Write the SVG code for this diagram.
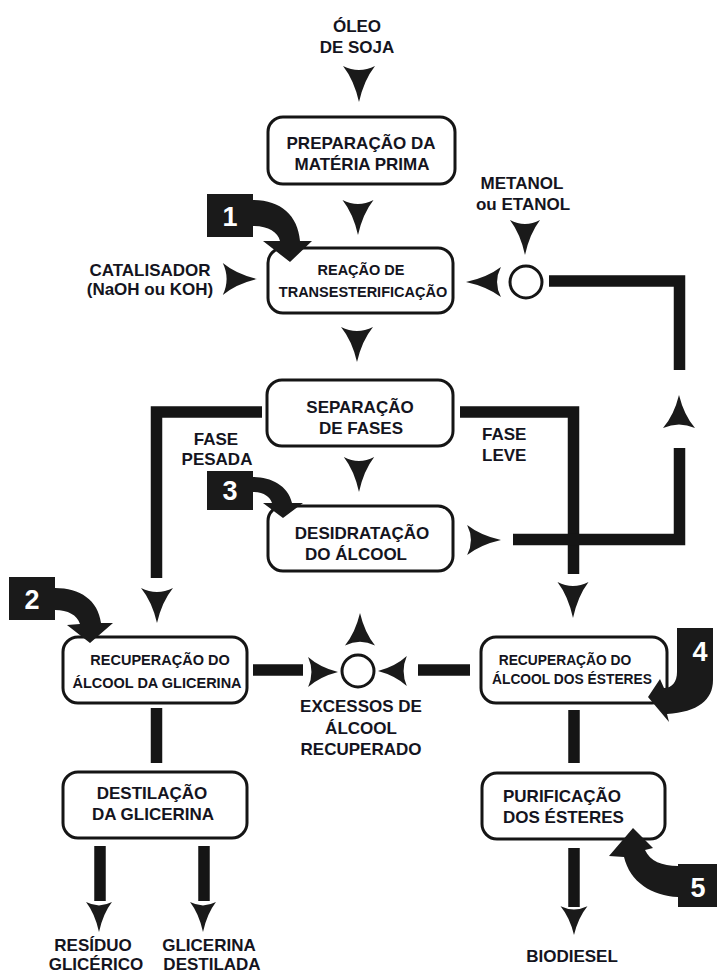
<svg xmlns="http://www.w3.org/2000/svg" xmlns:xlink="http://www.w3.org/1999/xlink" width="717" height="975" viewBox="0 0 717 975">
<style>
.box{fill:#fff;stroke:#151515;stroke-width:3}
.ln{fill:none;stroke:#151515;stroke-width:11.5;stroke-linejoin:miter;stroke-linecap:butt}
.cir{fill:#fff;stroke:#151515;stroke-width:3}
.ar{fill:#1a1a1a}
.mk{fill:#1a1a1a}
text{font-family:"Liberation Sans",Arial,Helvetica,sans-serif;font-weight:bold;fill:#141420;text-anchor:middle}
.t{font-size:17px}
.s{font-size:14.5px}
.xs{font-size:13.8px}
.num{font-size:27px;fill:#fff}
</style>
<defs>
<path id="dart" d="M0,0 Q-5,-22 -16,-36 Q0,-28 16,-36 Q5,-22 0,0 Z"/>
</defs>

<g id="connectors">
<path class="ln" d="M262,412 H156.5 V578"/>
<path class="ln" d="M460,412 H573.5 V574"/>
<path class="ln" d="M513,539.5 H679.5 V448"/>
<path class="ln" d="M549,281 H679.5 V370"/>
<path class="ln" d="M253,670 H303"/>
<path class="ln" d="M418,670 H470"/>
<path class="ln" d="M156.5,708 V763"/>
<path class="ln" d="M574,710 V763"/>
<path class="ln" d="M100,846 V901"/>
<path class="ln" d="M204,846 V901"/>
<path class="ln" d="M574,848 V907"/>
<g class="ar">
<use xlink:href="#dart" transform="translate(359,102)"/>
<use xlink:href="#dart" transform="translate(358,235) scale(0.97,0.97)"/>
<use xlink:href="#dart" transform="translate(357,362) scale(1,0.97)"/>
<use xlink:href="#dart" transform="translate(359,492) scale(0.95,0.97)"/>
<use xlink:href="#dart" transform="translate(257,279) rotate(-90) scale(1,0.95)"/>
<use xlink:href="#dart" transform="translate(525,255) scale(0.94,0.97)"/>
<use xlink:href="#dart" transform="translate(466,282) rotate(90) scale(0.94,0.97)"/>
<use xlink:href="#dart" transform="translate(679,395) rotate(180) scale(1,0.92)"/>
<use xlink:href="#dart" transform="translate(501,540) rotate(-90) scale(0.94,0.94)"/>
<use xlink:href="#dart" transform="translate(157,623) scale(1,0.97)"/>
<use xlink:href="#dart" transform="translate(573,618) scale(0.97,1)"/>
<use xlink:href="#dart" transform="translate(338,672) rotate(-90) scale(0.94,0.83)"/>
<use xlink:href="#dart" transform="translate(378,671) rotate(90) scale(0.94,0.8)"/>
<use xlink:href="#dart" transform="translate(360,613) rotate(180) scale(0.94,0.9)"/>
<use xlink:href="#dart" transform="translate(99,932) scale(0.81,0.83)"/>
<use xlink:href="#dart" transform="translate(203,932) scale(0.81,0.83)"/>
<use xlink:href="#dart" transform="translate(574,935) scale(0.84,0.8)"/>
</g>
</g>

<g id="oleo">
<text class="t" x="357" y="32">ÓLEO</text>
<text class="t" x="357" y="53">DE SOJA</text>
</g>

<g id="preparacao">
<rect class="box" x="268" y="117" width="187" height="67" rx="15"/>
<text class="t" x="361" y="149">PREPARAÇÃO DA</text>
<text class="t" x="362" y="170">MATÉRIA PRIMA</text>
</g>

<g id="catalisador">
<text class="t" x="150" y="276">CATALISADOR</text>
<text class="t" x="150" y="295">(NaOH ou KOH)</text>
</g>

<g id="metanol">
<text class="t" x="522" y="189">METANOL</text>
<text class="t" x="523" y="210">ou ETANOL</text>
</g>

<g id="mistura-alcool">
<circle class="cir" cx="526" cy="282" r="16"/>
</g>

<g id="reacao">
<rect class="box" x="268" y="248" width="185" height="65" rx="15"/>
<text class="s" x="361" y="275">REAÇÃO DE</text>
<text class="s" x="363" y="297">TRANSESTERIFICAÇÃO</text>
</g>

<g id="separacao">
<rect class="box" x="267" y="380" width="186" height="66" rx="15"/>
<text class="t" x="360" y="413">SEPARAÇÃO</text>
<text class="t" x="361" y="434">DE FASES</text>
</g>

<g id="fase-pesada">
<text class="t" x="216" y="445">FASE</text>
<text class="t" x="217" y="465">PESADA</text>
</g>

<g id="fase-leve">
<text class="t" x="482" y="440" style="text-anchor:start">FASE</text>
<text class="t" x="482" y="461" style="text-anchor:start">LEVE</text>
</g>

<g id="desidratacao">
<rect class="box" x="268" y="506" width="185" height="65" rx="15"/>
<text class="t" x="362" y="539">DESIDRATAÇÃO</text>
<text class="t" x="356" y="560">DO ÁLCOOL</text>
</g>

<g id="rec-glicerina">
<rect class="box" x="63" y="637" width="184" height="66" rx="15"/>
<text class="s" x="160" y="665">RECUPERAÇÃO DO</text>
<text class="s" x="157" y="688">ÁLCOOL DA GLICERINA</text>
</g>

<g id="excessos">
<circle class="cir" cx="358" cy="671" r="16"/>
<text class="t" x="361" y="712">EXCESSOS DE</text>
<text class="t" x="361" y="734">ÁLCOOL</text>
<text class="t" x="361" y="755">RECUPERADO</text>
</g>

<g id="rec-esteres">
<rect class="box" x="481" y="637" width="186" height="66" rx="15"/>
<text class="xs" x="565" y="665">RECUPERAÇÃO DO</text>
<text class="xs" x="572" y="684">ÁLCOOL DOS ÉSTERES</text>
</g>

<g id="destilacao">
<rect class="box" x="63" y="772" width="184" height="66" rx="15"/>
<text class="t" x="152" y="799">DESTILAÇÃO</text>
<text class="t" x="153" y="820">DA GLICERINA</text>
</g>

<g id="purificacao">
<rect class="box" x="482" y="773" width="183" height="66" rx="15"/>
<text class="t" x="503" y="802" style="text-anchor:start">PURIFICAÇÃO</text>
<text class="t" x="503" y="823" style="text-anchor:start">DOS ÉSTERES</text>
</g>

<g id="residuo">
<text class="t" x="93" y="951">RESÍDUO</text>
<text class="t" x="96" y="970">GLICÉRICO</text>
</g>

<g id="glicerina-destilada">
<text class="t" x="209" y="951">GLICERINA</text>
<text class="t" x="212" y="970">DESTILADA</text>
</g>

<g id="biodiesel">
<text class="t" x="572" y="962">BIODIESEL</text>
</g>

<g id="marker-1">
<rect class="mk" x="207" y="194" width="46" height="43"/>
<path class="mk" d="M253,200 C280,200 298,215 300,241 L312,241 L290,262 L263,241 L280,241 C278,232 268,226 253,226 Z"/>
<text class="num" x="230" y="226">1</text>
</g>

<g id="marker-2">
<rect class="mk" x="9" y="577" width="46" height="43"/>
<path class="mk" d="M55,588 C80,588 98,600 101,623 L113,623 L90,643 L67,625 L80,624 C77,615 68,610 55,610 Z"/>
<text class="num" x="32" y="609">2</text>
</g>

<g id="marker-3">
<rect class="mk" x="207" y="471" width="46" height="39"/>
<path class="mk" d="M253,477 C270,477 288,485 292,503 L303,503 L283,518 L263,503 L272,503 C270,497 264,492 253,492 Z"/>
<text class="num" x="230" y="500">3</text>
</g>

<g id="marker-4">
<path class="mk" d="M677,628 H713 V680 C713,700 698,712 667,714 L669,722 L648,697 L660,679 L664,688 C672,688 677,682 677,672 Z"/>
<text class="num" x="700" y="661">4</text>
</g>

<g id="marker-5">
<rect class="mk" x="678" y="864" width="39" height="43"/>
<path class="mk" d="M678,866 L678,897 C652,896 630,882 624,857 L609,856 L633,828 L653,848 L645,850 C650,861 662,866 678,866 Z"/>
<text class="num" x="698" y="897">5</text>
</g>
</svg>
